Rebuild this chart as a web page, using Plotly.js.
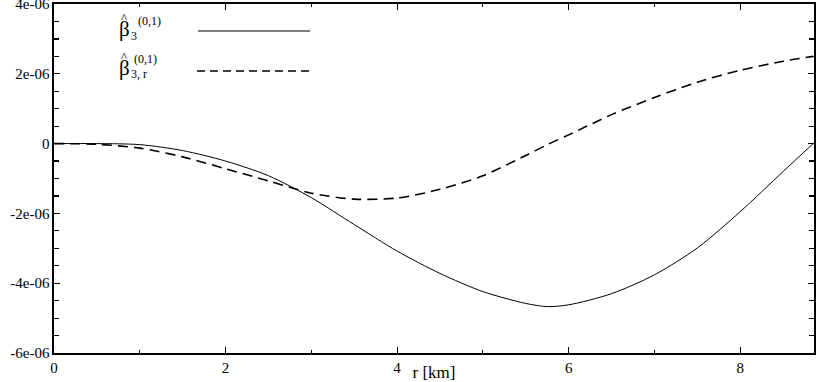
<!DOCTYPE html>
<html>
<head>
<meta charset="utf-8">
<script src="https://cdn.plot.ly/plotly-3.0.1.min.js"></script>
<style>
  html, body { margin: 0; padding: 0; background: #fff; }
  #chart { width: 817px; height: 382px; }
</style>
</head>
<body>
<div id="chart"></div>
<script>
// r [km]
var r = [0, 0.5, 1.0, 1.5, 2.0, 2.5, 3.0, 3.5, 4.0, 4.5, 5.0, 5.5, 5.75, 6.0, 6.5, 7.0, 7.5, 8.0, 8.5, 8.85];
// beta_3^(0,1)   (x 1e-06)
var beta = [0, 0, -0.03, -0.2, -0.5, -0.92, -1.55, -2.32, -3.08, -3.72, -4.24, -4.58, -4.67, -4.62, -4.3, -3.76, -2.99, -1.95, -0.8, 0];
// beta_3,r^(0,1) (x 1e-06)
var betaR = [0, -0.02, -0.13, -0.38, -0.72, -1.07, -1.42, -1.59, -1.56, -1.31, -0.92, -0.34, -0.03, 0.25, 0.83, 1.32, 1.76, 2.1, 2.36, 2.5];

var yTicks = [-6e-6, -4e-6, -2e-6, 0, 2e-6, 4e-6];
var yLabels = ['-6e-06', '-4e-06', '-2e-06', '0', '2e-06', '4e-06'];
var xTicks = [0, 2, 4, 6, 8];

function scale(arr) {
    return arr.map(function (v) { return v * 1e-6; });
}

var serif = 'Times New Roman, Liberation Serif, DejaVu Serif, serif';

// plot area in pixels: left 54, top 4, width 760, height 349
function px(x) { return (x - 54) / 760; }
function py(y) { return (353 - y) / 349; }

function label(x, y, text, size) {
    return { xref: 'paper', yref: 'paper', x: px(x), y: py(y), xanchor: 'left', yanchor: 'middle',
             showarrow: false, text: text, font: { family: serif, size: size, color: '#000' } };
}

var traces = [
    { x: r, y: scale(beta), mode: 'lines', line: { color: '#000', width: 1, shape: 'spline', smoothing: 0.8 }, showlegend: false },
    { x: r, y: scale(betaR), mode: 'lines', line: { color: '#000', width: 1.6, dash: '10px,6px', shape: 'spline', smoothing: 0.8 }, showlegend: false }
];

var layout = {
    width: 817,
    height: 382,
    margin: { l: 54, r: 3, t: 4, b: 29 },
    paper_bgcolor: '#fff',
    plot_bgcolor: '#fff',
    font: { family: serif, size: 14, color: '#000' },
    xaxis: {
        range: [0, 8.86],
        tickvals: xTicks,
        ticks: 'inside', ticklen: 6, tickwidth: 1.2, tickcolor: '#000',
        minor: { dtick: 1, tick0: 0, ticks: 'inside', ticklen: 3, tickcolor: '#000' },
        showline: true, linecolor: '#000', linewidth: 1.6, mirror: 'ticks',
        showgrid: false, zeroline: false,
        tickfont: { family: serif, size: 15, color: '#000' },
        ticklabeloverflow: 'allow',
        title: { text: 'r [km]', font: { family: serif, size: 17, color: '#000' }, standoff: 0 }
    },
    yaxis: {
        range: [-6e-6, 4e-6],
        tickvals: yTicks, ticktext: yLabels,
        ticks: 'inside', ticklen: 6, tickwidth: 1.2, tickcolor: '#000',
        minor: { dtick: 0.5e-6, tick0: 0, ticks: 'inside', ticklen: 5, tickcolor: '#000' },
        showline: true, linecolor: '#000', linewidth: 1.6, mirror: 'ticks',
        showgrid: false, zeroline: false,
        tickfont: { family: serif, size: 15, color: '#000' },
        ticklabeloverflow: 'allow'
    },
    shapes: [
        { type: 'line', xref: 'paper', yref: 'paper', x0: px(198), x1: px(310), y0: py(31), y1: py(31), line: { color: '#000', width: 1 } },
        { type: 'line', xref: 'paper', yref: 'paper', x0: px(197), x1: px(309), y0: py(71), y1: py(71), line: { color: '#000', width: 1.4, dash: '8px,5px' } }
    ],
    annotations: [
        label(117, 29, 'β', 21),
        label(119, 17, '^', 13),
        label(129, 36, '3', 12),
        label(136, 21, '(0,1)', 12),
        label(117, 68, 'β', 21),
        label(119, 56, '^', 13),
        label(129, 74, '3, r', 12),
        label(132, 59, '(0,1)', 12)
    ]
};

Plotly.newPlot('chart', traces, layout, { displayModeBar: false, staticPlot: true });
</script>
</body>
</html>
